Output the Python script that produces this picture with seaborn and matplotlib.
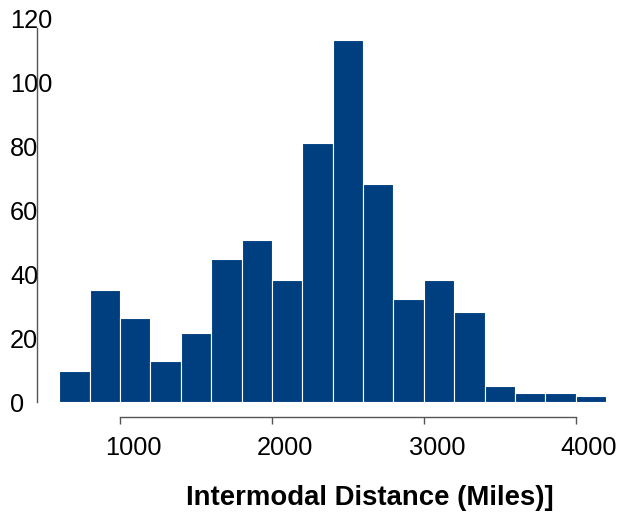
import matplotlib
matplotlib.use("Agg")
import matplotlib.pyplot as plt
import matplotlib.transforms as mtransforms
from matplotlib.ticker import FixedLocator
import seaborn as sns
import numpy as np
import pandas as pd

# Data (bin width 200 miles)
bin_edges = [600, 800, 1000, 1200, 1400, 1600, 1800, 2000, 2200, 2400,
             2600, 2800, 3000, 3200, 3400, 3600, 3800, 4000, 4200]
counts = [10, 36, 27, 13, 22, 46, 52, 39, 83, 116, 70, 33, 39, 29, 5, 3, 3, 2]
x_ticks = [1000, 2000, 3000, 4000]
y_ticks = [0, 20, 40, 60, 80, 100, 120]
x_label = "Intermodal Distance (Miles)]"

bin_centers = [(a + b) / 2 for a, b in zip(bin_edges[:-1], bin_edges[1:])]
df = pd.DataFrame({"distance": bin_centers, "count": counts})

sns.set_theme(style="white")
plt.rcParams["font.family"] = ["Liberation Sans", "DejaVu Sans"]

W, H = 626, 521
fig = plt.figure(figsize=(W / 100, H / 100), dpi=100)

# axes box in pixels
ax_left_px, ax_right_px = 37, 616
ax_top_px, ax_bot_px = 28, 417
ax = fig.add_axes([ax_left_px / W, 1 - ax_bot_px / H,
                   (ax_right_px - ax_left_px) / W, (ax_bot_px - ax_top_px) / H])

sns.histplot(data=df, x="distance", weights="count", bins=bin_edges,
             color="#003F7F", alpha=1.0, edgecolor="white", linewidth=0.8,
             ax=ax)

px_per_unit_x = (575.7 - 120) / 3000.0
xmin = 1000 + (ax_left_px - 120) / px_per_unit_x
xmax = 1000 + (ax_right_px - 120) / px_per_unit_x
ax.set_xlim(xmin, xmax)
px_per_unit_y = (402 - 28) / 120.0
ax.set_ylim(-(ax_bot_px - 402) / px_per_unit_y, 120)

for s in ["top", "right"]:
    ax.spines[s].set_visible(False)
spine_color = "#555555"
ax.spines["left"].set_bounds(0, 120)
ax.spines["bottom"].set_bounds(1000, 4000)
for s in ["left", "bottom"]:
    ax.spines[s].set_color(spine_color)
    ax.spines[s].set_linewidth(1.0)

ax.set_xticks(x_ticks)
ax.set_yticks(y_ticks)
ax.set_xticklabels([str(v) for v in x_ticks])
ax.set_yticklabels([str(v) for v in y_ticks])
ax.tick_params(axis="both", which="major", direction="out",
               width=1.0, color=spine_color, labelsize=18.3, labelcolor="black",
               bottom=True, left=True)
ax.tick_params(axis="x", which="major", length=5, pad=9)
# y: labels without visible major ticks; a single tick mark at 0
ax.tick_params(axis="y", which="major", length=0, pad=19.4)
ax.yaxis.set_minor_locator(FixedLocator([0]))
ax.tick_params(axis="y", which="minor", direction="out", length=5, width=1.0,
               color=spine_color, left=True)

# text layer offsets seen in the reference
for lbl, v in zip(ax.get_yticklabels(), y_ticks):
    lbl.set_horizontalalignment("left")
    dy = (v * 0.083 - 0.8) / 100.0
    lbl.set_transform(lbl.get_transform() +
                      mtransforms.ScaledTranslation(0, dy, fig.dpi_scale_trans))
for lbl in ax.get_xticklabels():
    lbl.set_transform(lbl.get_transform() +
                      mtransforms.ScaledTranslation(13 / 100.0, 0, fig.dpi_scale_trans))

ax.set_xlabel("")
ax.set_ylabel("")
ax.grid(False)

fig.text(370 / W, 1 - 498 / H, x_label, ha="center", va="center",
         fontsize=19.8, fontweight="bold", color="black")

fig.savefig("out.png", dpi=100)
